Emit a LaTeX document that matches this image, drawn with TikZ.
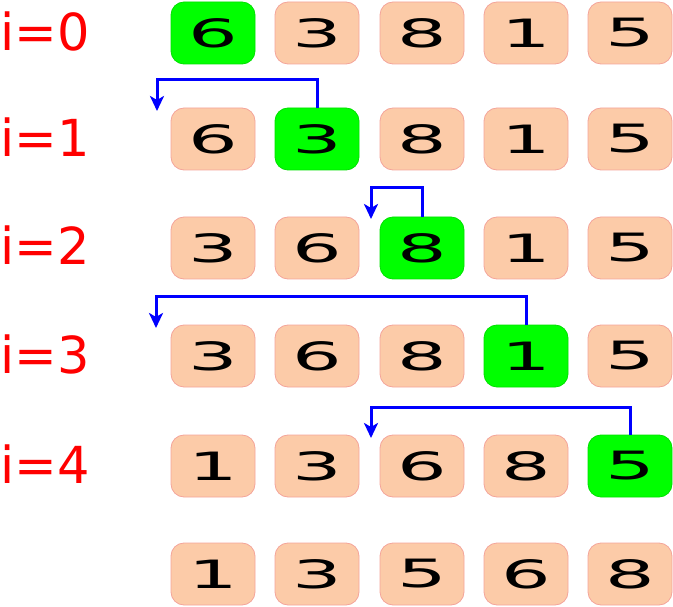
\documentclass[tikz,border=0pt]{standalone}
\usepackage{fontspec}
\setmainfont{DejaVu Sans}
\newfontfamily\digitfont[FakeStretch=2.0]{DejaVu Sans}
\usetikzlibrary{arrows.meta}
\definecolor{peach}{HTML}{FCCBA8}
\definecolor{peachline}{HTML}{F4A49A}
\definecolor{brightgreen}{HTML}{00FF00}
\definecolor{greenline}{HTML}{00E000}
\definecolor{arrowblue}{HTML}{0000FF}
\definecolor{labelred}{HTML}{FF0000}
\tikzset{
  cell/.style={rectangle, rounded corners=13pt, minimum width=84pt, minimum height=62pt,
    inner sep=0pt, line width=0.8pt, font=\digitfont\fontsize{39}{39}\selectfont},
  plain/.style={cell, fill=peach, draw=peachline},
  key/.style={cell, fill=brightgreen, draw=greenline},
  rowlabel/.style={anchor=base west, inner sep=0pt, text=labelred, font=\fontsize{51}{51}\selectfont},
  movearrow/.style={draw=arrowblue, line width=3pt, -{Stealth[length=15pt,width=14pt,inset=4pt]}}
}
\begin{document}
\begin{tikzpicture}[x=1pt,y=-1pt]
\useasboundingbox (0,0) rectangle (673,607);
% row labels
\node[rowlabel] (l0) at (0,50.5) {i=0};
\node[rowlabel] (l1) at (0,156.5) {i=1};
\node[rowlabel] (l2) at (0,264.5) {i=2};
\node[rowlabel] (l3) at (0,373.5) {i=3};
\node[rowlabel] (l4) at (0,483.5) {i=4};
% row 0
\node[key]   (b00) at (213,33) {6};
\node[plain] (b01) at (317,33) {3};
\node[plain] (b02) at (422,33) {8};
\node[plain] (b03) at (526,33) {1};
\node[plain] (b04) at (630,33) {5};
% row 1
\node[plain] (b10) at (213,139) {6};
\node[key]   (b11) at (317,139) {3};
\node[plain] (b12) at (422,139) {8};
\node[plain] (b13) at (526,139) {1};
\node[plain] (b14) at (630,139) {5};
% row 2
\node[plain] (b20) at (213,248) {3};
\node[plain] (b21) at (317,248) {6};
\node[key]   (b22) at (422,248) {8};
\node[plain] (b23) at (526,248) {1};
\node[plain] (b24) at (630,248) {5};
% row 3
\node[plain] (b30) at (213,356) {3};
\node[plain] (b31) at (317,356) {6};
\node[plain] (b32) at (422,356) {8};
\node[key]   (b33) at (526,356) {1};
\node[plain] (b34) at (630,356) {5};
% row 4
\node[plain] (b40) at (213,466) {1};
\node[plain] (b41) at (317,466) {3};
\node[plain] (b42) at (422,466) {6};
\node[plain] (b43) at (526,466) {8};
\node[key]   (b44) at (630,466) {5};
% row 5
\node[plain] (b50) at (213,574) {1};
\node[plain] (b51) at (317,574) {3};
\node[plain] (b52) at (422,574) {5};
\node[plain] (b53) at (526,574) {6};
\node[plain] (b54) at (630,574) {8};
% arrow corners and tips
\coordinate (t1) at (157,80);  \coordinate (a1) at (157,111);
\coordinate (t2) at (371,188); \coordinate (a2) at (371,219);
\coordinate (t3) at (156,297); \coordinate (a3) at (156,328);
\coordinate (t4) at (371,407); \coordinate (a4) at (371,438);
\draw[movearrow] (b11.north) |- (t1) -- (a1);
\draw[movearrow] (b22.north) |- (t2) -- (a2);
\draw[movearrow] (b33.north) |- (t3) -- (a3);
\draw[movearrow] (b44.north) |- (t4) -- (a4);
\end{tikzpicture}
\end{document}
